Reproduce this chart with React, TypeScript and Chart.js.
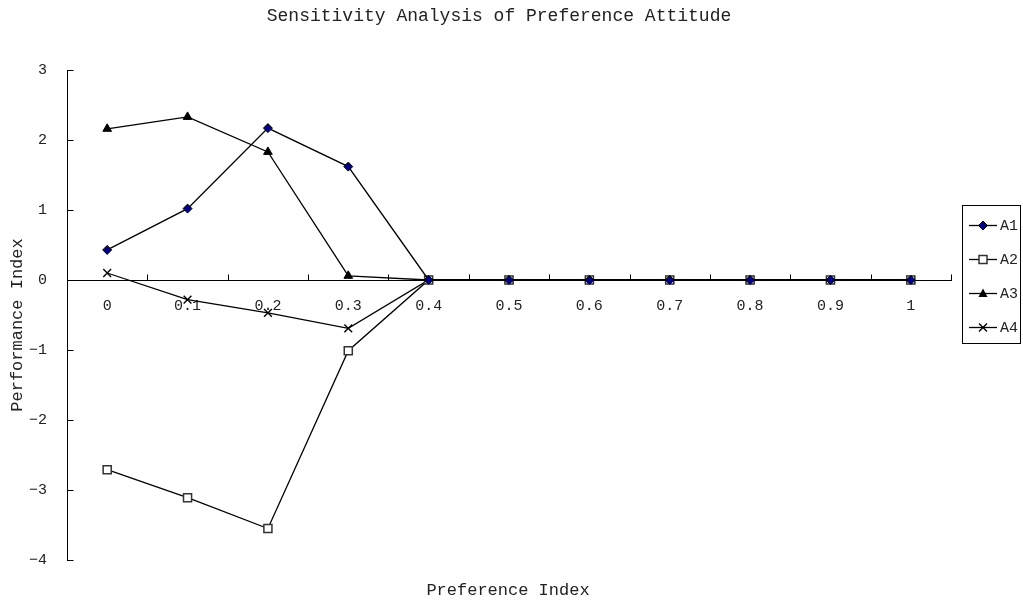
import React, { useEffect, useRef } from "react";
import { Chart, registerables } from "chart.js";

Chart.register(...registerables);

const categories = ["0", "0.1", "0.2", "0.3", "0.4", "0.5", "0.6", "0.7", "0.8", "0.9", "1"];
const seriesA1 = [0.43, 1.02, 2.17, 1.62, 0, 0, 0, 0, 0, 0, 0];
const seriesA2 = [-2.71, -3.11, -3.55, -1.01, 0, 0, 0, 0, 0, 0, 0];
const seriesA3 = [2.16, 2.33, 1.83, 0.06, 0, 0, 0, 0, 0, 0, 0];
const seriesA4 = [0.1, -0.28, -0.47, -0.69, 0, 0, 0, 0, 0, 0, 0];
const seriesNames = ["A1", "A2", "A3", "A4"];
const yTickValues = [3, 2, 1, 0, -1, -2, -3, -4];

const chartTitle = "Sensitivity Analysis of Preference Attitude";
const xTitle = "Preference Index";
const yTitle = "Performance Index";

const FONT = "'Liberation Mono', 'DejaVu Sans Mono', monospace";

function drawMarker(ctx: CanvasRenderingContext2D, kind: number, x: number, y: number) {
  ctx.save();
  ctx.lineWidth = 1;
  ctx.strokeStyle = "#000";
  if (kind === 0) {
    const r = 4.5;
    ctx.beginPath();
    ctx.moveTo(x, y - r);
    ctx.lineTo(x + r, y);
    ctx.lineTo(x, y + r);
    ctx.lineTo(x - r, y);
    ctx.closePath();
    ctx.fillStyle = "#000080";
    ctx.fill();
    ctx.stroke();
  } else if (kind === 1) {
    ctx.fillStyle = "#fff";
    ctx.lineWidth = 1.5;
    ctx.strokeStyle = "#333";
    ctx.fillRect(x - 4, y - 4, 8, 8);
    ctx.strokeRect(x - 4, y - 4, 8, 8);
  } else if (kind === 2) {
    ctx.beginPath();
    ctx.moveTo(x, y - 5);
    ctx.lineTo(x + 4.5, y + 3.5);
    ctx.lineTo(x - 4.5, y + 3.5);
    ctx.closePath();
    ctx.fillStyle = "#000";
    ctx.fill();
  } else {
    ctx.lineWidth = 1.4;
    ctx.beginPath();
    ctx.moveTo(x - 4, y - 4);
    ctx.lineTo(x + 4, y + 4);
    ctx.moveTo(x + 4, y - 4);
    ctx.lineTo(x - 4, y + 4);
    ctx.stroke();
  }
  ctx.restore();
}

const decorPlugin = {
  id: "decor",
  afterDraw(chart: any) {
    const ctx: CanvasRenderingContext2D = chart.ctx;
    const xs = chart.scales.x;
    const ys = chart.scales.y;
    ctx.save();
    ctx.strokeStyle = "#000";
    ctx.lineWidth = 1;
    const y0 = Math.round(ys.getPixelForValue(0)) + 0.5;
    ctx.beginPath();
    for (let i = 0; i <= categories.length; i++) {
      const px = Math.round(xs.getPixelForValue(i - 0.5)) + 0.5;
      ctx.moveTo(px, y0);
      ctx.lineTo(px, y0 - 6);
    }
    const left = Math.round(chart.chartArea.left) + 0.5;
    for (const v of yTickValues) {
      const py = Math.round(ys.getPixelForValue(v)) + 0.5;
      ctx.moveTo(left, py);
      ctx.lineTo(left + 6, py);
    }
    ctx.stroke();

    ctx.fillStyle = "#222";
    ctx.textAlign = "center";
    ctx.textBaseline = "middle";
    ctx.font = `18px ${FONT}`;
    ctx.fillText(chartTitle, 499, 16);
    ctx.font = `17px ${FONT}`;
    ctx.fillText(xTitle, 508, 590);
    ctx.save();
    ctx.translate(17, 325);
    ctx.rotate(-Math.PI / 2);
    ctx.fillText(yTitle, 0, 0);
    ctx.restore();

    ctx.strokeStyle = "#000";
    ctx.lineWidth = 1;
    ctx.strokeRect(962.5, 205.5, 58, 138);
    const rows = [225, 259, 293, 327];
    ctx.font = `15px ${FONT}`;
    ctx.textAlign = "left";
    seriesNames.forEach((name, i) => {
      const ry = rows[i] + 0.5;
      ctx.beginPath();
      ctx.lineWidth = 1.3;
      ctx.moveTo(969, ry);
      ctx.lineTo(997, ry);
      ctx.stroke();
      drawMarker(ctx, i, 983, ry);
      ctx.fillStyle = "#222";
      ctx.fillText(name, 1000, rows[i] + 1);
    });
    ctx.restore();
  },
};

export default function App() {
  const ref = useRef<HTMLCanvasElement | null>(null);
  useEffect(() => {
    if (!ref.current) return;
    const common = { borderColor: "#000", borderWidth: 1.3, tension: 0, fill: false };
    const chart = new Chart(ref.current, {
      type: "line",
      data: {
        labels: categories,
        datasets: [
          { ...common, label: seriesNames[0], data: seriesA1, pointStyle: "rectRot", pointRadius: 4.5, pointBackgroundColor: "#000080", pointBorderColor: "#000", pointBorderWidth: 1 },
          { ...common, label: seriesNames[1], data: seriesA2, pointStyle: "rect", pointRadius: 5.7, pointBackgroundColor: "#fff", pointBorderColor: "#333", pointBorderWidth: 1.5 },
          { ...common, label: seriesNames[2], data: seriesA3, pointStyle: "triangle", pointRadius: 5, pointBackgroundColor: "#000", pointBorderColor: "#000", pointBorderWidth: 1 },
          { ...common, label: seriesNames[3], data: seriesA4, pointStyle: "crossRot", pointRadius: 5.5, pointBackgroundColor: "#000", pointBorderColor: "#000", pointBorderWidth: 1.4 },
        ],
      } as any,
      options: {
        animation: false,
        responsive: false,
        events: [],
        clip: false as any,
        layout: { padding: { top: 70, left: 0, right: 72, bottom: 43 } },
        plugins: { legend: { display: false }, title: { display: false }, tooltip: { enabled: false } },
        scales: {
          x: {
            type: "category",
            offset: true,
            position: { y: 0 } as any,
            grid: { display: false },
            border: { display: true, color: "#000", width: 1 },
            ticks: { color: "#222", font: { family: FONT, size: 15 }, padding: 9, maxRotation: 0, autoSkip: false },
          },
          y: {
            type: "linear",
            min: -4,
            max: 3,
            grid: { display: false },
            border: { display: true, color: "#000", width: 1 },
            ticks: {
              stepSize: 1,
              color: "#222",
              font: { family: FONT, size: 15 },
              padding: 12,
              callback: (v: any) => (Number(v) < 0 ? "\u2212" + Math.abs(Number(v)) : String(v)),
            },
            afterFit(scale: any) {
              scale.width = 67;
            },
          },
        },
      } as any,
      plugins: [decorPlugin],
    });
    return () => chart.destroy();
  }, []);
  return (
    <canvas
      ref={ref}
      width={1023}
      height={603}
      style={{ position: "absolute", left: 0, top: 0, width: 1023, height: 603 }}
    />
  );
}
